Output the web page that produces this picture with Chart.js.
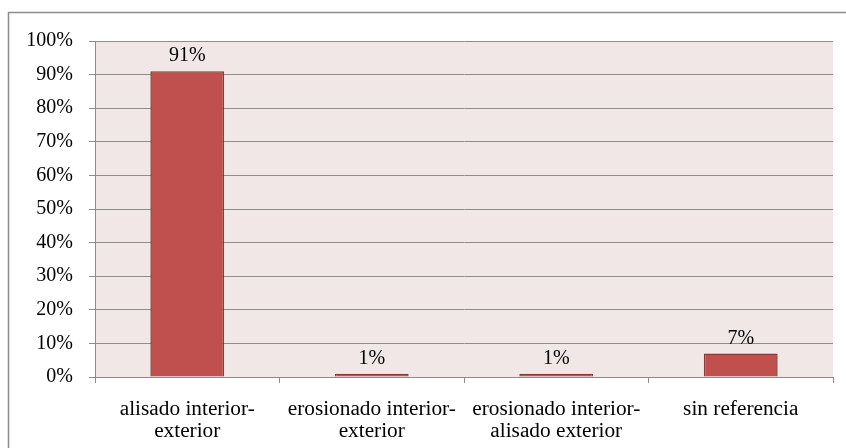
<!DOCTYPE html>
<html><head><meta charset="utf-8">
<script src="https://cdn.jsdelivr.net/npm/chart.js@4/dist/chart.umd.min.js"></script>
<style>html,body{margin:0;padding:0;background:#fff}#wrap{width:846px;height:448px;position:relative}</style>
</head><body><div id="wrap"><canvas id="c" width="846" height="448"></canvas></div>
<script>
const categories = [["alisado interior-","exterior"],["erosionado interior-","exterior"],["erosionado interior-","alisado exterior"],["sin referencia"]];
const values = [91, 1, 1, 7];
const yTicks = [0,10,20,30,40,50,60,70,80,90,100];

const FONT = "'Liberation Serif', 'Times New Roman', serif";
const gridColor = '#8c8c8c';

const bgPlugin = {
  id: 'bg',
  beforeDraw(chart) {
    const {ctx, chartArea: a} = chart;
    ctx.save();
    ctx.fillStyle = '#f2e7e7';
    ctx.fillRect(a.left, a.top, a.right - a.left, a.bottom - a.top);
    ctx.strokeStyle = '#8c8c8c';
    ctx.lineWidth = 1.5;
    ctx.strokeRect(8.5, 12.5, 860, 460);
    ctx.restore();
  }
};
const labelPlugin = {
  id: 'vlabels',
  afterDatasetsDraw(chart) {
    const {ctx} = chart;
    const meta = chart.getDatasetMeta(0);
    ctx.save();
    ctx.font = '20px ' + FONT;
    ctx.fillStyle = '#000';
    ctx.textAlign = 'center';
    ctx.textBaseline = 'middle';
    meta.data.forEach((bar, i) => {
      ctx.fillText(values[i] + '%', bar.x, bar.y - 15);
    });
    ctx.restore();
  }
};

new Chart(document.getElementById('c'), {
  type: 'bar',
  data: {
    labels: categories,
    datasets: [{
      data: values,
      backgroundColor: '#c0504d',
      borderColor: '#8c3836',
      borderWidth: 1.5,
      categoryPercentage: 1,
      barPercentage: 0.4
    }]
  },
  options: {
    responsive: false,
    animation: false,
    devicePixelRatio: 1,
    layout: { padding: { top: 41, right: 13, left: 0, bottom: 0 } },
    plugins: { legend: { display: false }, tooltip: { enabled: false } },
    scales: {
      x: {
        offset: true,
        grid: { offset: true, drawOnChartArea: false, drawTicks: true, tickLength: 6, color: gridColor },
        border: { color: gridColor, width: 1 },
        ticks: { color: '#000', font: { family: FONT, size: 21.3, lineHeight: 1.0 }, padding: 16, maxRotation: 0, autoSkip: false },
        afterFit(s) { s.height = 71; }
      },
      y: {
        min: 0, max: 100,
        afterBuildTicks(s) { s.ticks = yTicks.map(v => ({ value: v })); },
        grid: { color: gridColor, tickLength: 6 },
        border: { color: gridColor, width: 1 },
        ticks: { color: '#000', font: { family: FONT, size: 20 }, padding: 16, callback: v => v + '%' },
        afterFit(s) { s.width = 95; }
      }
    }
  },
  plugins: [bgPlugin, labelPlugin]
});
</script></body></html>
